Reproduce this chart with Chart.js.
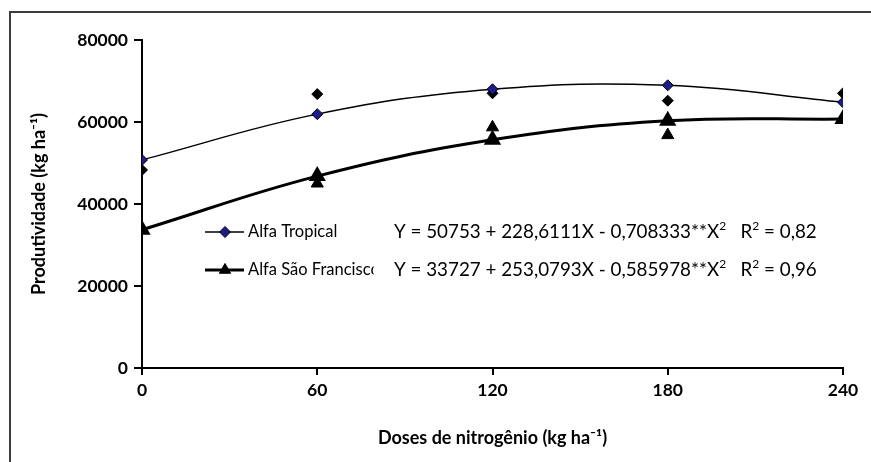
<!DOCTYPE html>
<html lang="pt">
<head>
    <meta charset="UTF-8">
    <title>Produtividade x Doses de nitrogênio</title>
    <script src="https://cdn.jsdelivr.net/npm/chart.js"></script>
    <style>
        html, body { margin: 0; padding: 0; background: #fff; }
        #wrap { width: 871px; height: 462px; }
    </style>
</head>
<body>
    <div id="wrap"><canvas id="prodChart"></canvas></div>

    <script>
        // doses de N (kg/ha)
        var doses = [0, 60, 120, 180, 240];
        var yTicks = [0, 20000, 40000, 60000, 80000];

        // Alfa Tropical: valores da curva ajustada e observados
        var tropicalFit = [50753, 61920, 67990, 68950, 64820];
        var tropicalObs = [48300, 66800, 67000, 65200, 67000];

        // Alfa Sao Francisco
        var saoFit = [33727, 46800, 55660, 60300, 60710];
        var saoObs = [33700, 45000, 58700, 56800, 61000];

        var eqTropical = [['Y = 50753 + 228,6111X - 0,708333**X'], ['2', true], ['   R'], ['2', true], [' = 0,82']];
        var eqSao = [['Y = 33727 + 253,0793X - 0,585978**X'], ['2', true], ['   R'], ['2', true], [' = 0,96']];

        function pts(vals) {
            return doses.map(function (d, i) { return { x: d, y: vals[i] }; });
        }

        var NAVY = '#1c1c8a';
        var FONT = 'Lato, "Liberation Sans", sans-serif';

        function drawShape(ctx, style, r, x, y) {
            if (style === 'triangle') {
                ctx.moveTo(x, y - r);
                ctx.lineTo(x + r * 0.87, y + r * 0.5);
                ctx.lineTo(x - r * 0.87, y + r * 0.5);
                ctx.closePath();
            } else {
                ctx.moveTo(x, y - r);
                ctx.lineTo(x + r, y);
                ctx.lineTo(x, y + r);
                ctx.lineTo(x - r, y);
                ctx.closePath();
            }
        }

        var extras = {
            id: 'extras',
            afterDraw: function (chart) {
                var ctx = chart.ctx;
                ctx.save();
                // moldura externa
                ctx.strokeStyle = '#3c3c3c';
                ctx.lineWidth = 2;
                ctx.strokeRect(10, 12, 900, 500);

                // legenda dentro do grafico
                var items = [
                    { ds: chart.data.datasets[0], label: 'Alfa Tropical', y: 232, eq: eqTropical },
                    { ds: chart.data.datasets[2], label: 'Alfa São Francisco', y: 270, eq: eqSao }
                ];
                ctx.font = '16.5px ' + FONT;
                var clipW = ctx.measureText('Alfa São Francisc').width + 5;
                items.forEach(function (it) {
                    ctx.strokeStyle = '#000';
                    ctx.lineWidth = it.ds.borderWidth;
                    ctx.beginPath();
                    ctx.moveTo(205, it.y);
                    ctx.lineTo(244, it.y);
                    ctx.stroke();

                    ctx.fillStyle = it.ds.pointBackgroundColor;
                    ctx.lineWidth = 1;
                    ctx.beginPath();
                    drawShape(ctx, it.ds.pointStyle, it.ds.pointStyle === 'triangle' ? 6.5 : 5.5, 225, it.y);
                    ctx.fill();
                    ctx.stroke();

                    // texto cortado como no original
                    ctx.save();
                    ctx.beginPath();
                    ctx.rect(246, it.y - 15, clipW, 30);
                    ctx.clip();
                    ctx.fillStyle = '#000';
                    ctx.font = '16.5px ' + FONT;
                    ctx.textBaseline = 'middle';
                    ctx.fillText(it.label, 248, it.y);
                    ctx.restore();

                    // equacao
                    var x = 394;
                    ctx.fillStyle = '#000';
                    ctx.textBaseline = 'middle';
                    it.eq.forEach(function (seg) {
                        if (seg[1]) {
                            ctx.font = '12px ' + FONT;
                            ctx.fillText(seg[0], x, it.y - 6);
                        } else {
                            ctx.font = '18.8px ' + FONT;
                            ctx.fillText(seg[0], x, it.y);
                        }
                        x += ctx.measureText(seg[0]).width;
                    });
                });
                ctx.restore();
            }
        };

        var ctx = document.getElementById('prodChart').getContext('2d');
        var chart = new Chart(ctx, {
            type: 'scatter',
            data: {
                datasets: [
                    {
                        label: 'Alfa Tropical',
                        data: pts(tropicalFit),
                        showLine: true,
                        tension: 0.4,
                        borderColor: '#000',
                        borderWidth: 1.5,
                        pointStyle: 'rectRot',
                        pointRadius: 5.5,
                        pointBackgroundColor: NAVY,
                        pointBorderColor: '#000',
                        pointBorderWidth: 1,
                        order: 2
                    },
                    {
                        label: 'Alfa Tropical obs',
                        data: pts(tropicalObs),
                        pointStyle: 'rectRot',
                        pointRadius: 5.5,
                        pointBackgroundColor: '#000',
                        pointBorderColor: '#000',
                        order: 3
                    },
                    {
                        label: 'Alfa São Francisco',
                        data: pts(saoFit),
                        showLine: true,
                        tension: 0.4,
                        borderColor: '#000',
                        borderWidth: 3,
                        pointStyle: 'triangle',
                        pointRadius: 7,
                        pointBackgroundColor: '#000',
                        pointBorderColor: '#000',
                        order: 1
                    },
                    {
                        label: 'Alfa São Francisco obs',
                        data: pts(saoObs),
                        pointStyle: 'triangle',
                        pointRadius: 7,
                        pointBackgroundColor: '#000',
                        pointBorderColor: '#000',
                        order: 4
                    }
                ]
            },
            options: {
                responsive: true,
                maintainAspectRatio: false,
                animation: false,
                layout: { padding: { top: 40, right: 28, left: 0, bottom: 0 } },
                plugins: {
                    legend: { display: false },
                    tooltip: { enabled: false }
                },
                scales: {
                    x: {
                        type: 'linear',
                        min: 0,
                        max: 240,
                        afterBuildTicks: function (axis) {
                            axis.ticks = doses.map(function (v) { return { value: v }; });
                        },
                        afterFit: function (axis) { axis.height = 94; },
                        border: { color: '#000', width: 2 },
                        grid: { drawOnChartArea: false, color: '#000', lineWidth: 2, tickLength: 7 },
                        ticks: {
                            color: '#000', padding: 5,
                            font: { family: FONT, size: 17.5, weight: 'bold' },
                            callback: function (v) { return String(v); }
                        },
                        title: {
                            display: true,
                            text: 'Doses de nitrogênio (kg ha⁻¹)',
                            color: '#000',
                            font: { family: FONT, size: 18, weight: 'bold' },
                            padding: { top: 0, bottom: 13 }
                        }
                    },
                    y: {
                        min: 0,
                        max: 80000,
                        afterBuildTicks: function (axis) {
                            axis.ticks = yTicks.map(function (v) { return { value: v }; });
                        },
                        afterFit: function (axis) { axis.width = 142; },
                        border: { color: '#000', width: 2 },
                        grid: { drawOnChartArea: false, color: '#000', lineWidth: 2, tickLength: 8 },
                        ticks: {
                            color: '#000', padding: 6,
                            font: { family: FONT, size: 17.5, weight: 'bold' },
                            callback: function (v) { return String(v); }
                        },
                        title: {
                            display: true,
                            text: 'Produtividade (kg ha⁻¹)',
                            color: '#000',
                            font: { family: FONT, size: 18, weight: 'bold' },
                            padding: { top: 28, bottom: 0 }
                        }
                    }
                }
            },
            plugins: [extras]
        });
    </script>
</body>
</html>
